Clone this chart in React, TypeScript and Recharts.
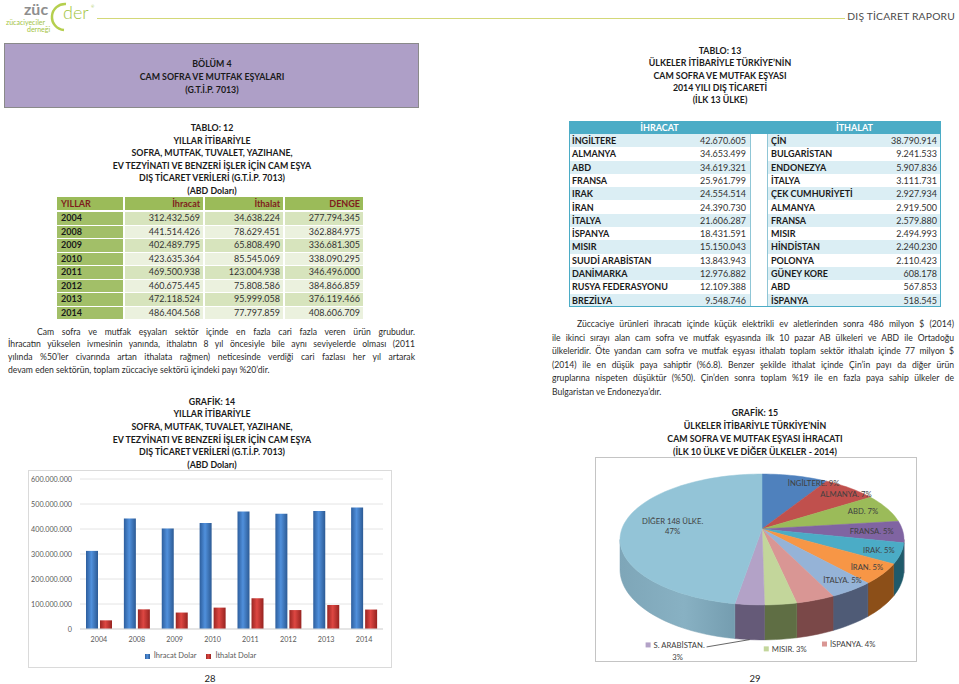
import React from "react";
import { BarChart, Bar, XAxis, YAxis, CartesianGrid, Legend, PieChart, Pie } from "recharts";

const FONT = "Lato, 'Open Sans', sans-serif";

// TABLO 12 / GRAFİK 14
const years = ["2004", "2008", "2009", "2010", "2011", "2012", "2013", "2014"];
const exportUsd = [312432569, 441514426, 402489795, 423635364, 469500938, 460675445, 472118524, 486404568];
const importUsd = [34638224, 78629451, 65808490, 85545069, 123004938, 75808586, 95999058, 77797859];
const balanceUsd = [277794345, 362884975, 336681305, 338090295, 346496000, 384866859, 376119466, 408606709];
const yTicks = [0, 100000000, 200000000, 300000000, 400000000, 500000000, 600000000];

// TABLO 13
const exportCountries = ["İNGİLTERE", "ALMANYA", "ABD", "FRANSA", "IRAK", "İRAN", "İTALYA", "İSPANYA", "MISIR", "SUUDİ ARABİSTAN", "DANİMARKA", "RUSYA FEDERASYONU", "BREZİLYA"];
const exportByCountry = [42670605, 34653499, 34619321, 25961799, 24554514, 24390730, 21606287, 18431591, 15150043, 13843943, 12976882, 12109388, 9548746];
const importCountries = ["ÇİN", "BULGARİSTAN", "ENDONEZYA", "İTALYA", "ÇEK CUMHURİYETİ", "ALMANYA", "FRANSA", "MISIR", "HİNDİSTAN", "POLONYA", "GÜNEY KORE", "ABD", "İSPANYA"];
const importByCountry = [38790914, 9241533, 5907836, 3111731, 2927934, 2919500, 2579880, 2494993, 2240230, 2110423, 608178, 567853, 518545];

// GRAFİK 15
const pieNames = ["İNGİLTERE", "ALMANYA", "ABD", "FRANSA", "IRAK", "İRAN", "İTALYA", "İSPANYA", "MISIR", "S. ARABİSTAN", "DİĞER 148 ÜLKE"];
const pieValues = [42670605, 34653499, 34619321, 25961799, 24554514, 24390730, 21606287, 18431591, 15150043, 13843943, 230522236];
const piePercents = [9, 7, 7, 5, 5, 5, 5, 4, 3, 3, 47];

const pieColors = ["#4f81bd", "#c0504d", "#9bbb59", "#8064a2", "#4bacc6", "#f79646", "#95b3d7", "#d99694", "#c3d69b", "#b3a2c7", "#93c4d7"];
const wallColors = ["#2c4a6e", "#6e2c2a", "#5a6e33", "#4a3a5e", "#1f5a6a", "#8c4f18", "#4f5b76", "#7a4848", "#5f6e44", "#655a78", "url(#wallOther)"];

const fmt = (n: number) => String(n).replace(/\B(?=(\d{3})+(?!\d))/g, ".");

const barData = years.map((y, i) => ({ year: y, exp: exportUsd[i], imp: importUsd[i] }));
const pieData = pieNames.map((n, i) => ({ name: n, value: pieValues[i] }));

// 3D pie projection (tilted disc with perspective)
const PERSP = 0.16;
const SX = 0.987;
const SY = 0.449;
const DEPTH = 0.207;
const RAD = Math.PI / 180;

function proj(cx: number, cy: number, r: number, deg: number, f = 1) {
  const s = Math.sin(deg * RAD) * f;
  const c = Math.cos(deg * RAD) * f;
  const w = 1 + PERSP * s;
  return { x: cx + (r * SX * c) / w, y: cy - (r * SY * s) / w, w };
}

function arc(cx: number, cy: number, r: number, a0: number, a1: number, drop: number) {
  const n = Math.max(2, Math.ceil(Math.abs(a1 - a0) / 2));
  const pts: number[][] = [];
  for (let i = 0; i <= n; i++) {
    const p = proj(cx, cy, r, a0 + ((a1 - a0) * i) / n);
    pts.push([p.x, p.y + drop / p.w]);
  }
  return pts;
}

const toPath = (pts: number[][]) =>
  pts.map((p, i) => (i ? "L" : "M") + p[0].toFixed(2) + "," + p[1].toFixed(2)).join("") + "Z";

const sliceShape = (p: any) => {
  const { cx, cy, outerRadius: r, startAngle, endAngle, index } = p;
  const lo = Math.min(startAngle, endAngle);
  const hi = Math.max(startAngle, endAngle);
  const top = toPath([[cx, cy], ...arc(cx, cy, r, lo, hi, 0)]);
  const silh = Math.asin(PERSP) / RAD;
  const w0 = Math.max(lo, -180 + silh);
  const w1 = Math.min(hi, -silh);
  let wall = null;
  if (w1 > w0) {
    const upper = arc(cx, cy, r, w0, w1, 0);
    const lower = arc(cx, cy, r, w0, w1, DEPTH * r).reverse();
    wall = <path d={toPath([...upper, ...lower])} fill={wallColors[index]} stroke={index === 10 ? "#78a0b2" : wallColors[index]} strokeWidth={0.5} />;
  }
  return (
    <g key={`slice-${index}`}>
      {index === 10 && (
        <defs>
          <linearGradient id="wallOther" gradientUnits="userSpaceOnUse" x1={cx - r} y1="0" x2={cx} y2="0">
            <stop offset="0%" stopColor="#7ea6b8" />
            <stop offset="45%" stopColor="#88b1c3" />
            <stop offset="100%" stopColor="#6a92a5" />
          </linearGradient>
        </defs>
      )}
      {wall}
      <path d={top} fill={pieColors[index]} stroke={pieColors[index]} strokeWidth={0.5} />
    </g>
  );
};

const insideNudge: Record<string, number> = { "İNGİLTERE": 23, "ALMANYA": 8, "ABD": -6, "FRANSA": -10, "İRAN": 4, "İTALYA": 6 };
const outsideSpots: Record<string, { dx: number; dy: number }> = {
  "İSPANYA": { dx: 6.5, dy: 9.3 },
  "MISIR": { dx: -17, dy: 9.6 },
  "S. ARABİSTAN": { dx: -104, dy: 5.3 },
};

const sliceText = (p: any) => {
  const { cx, cy, outerRadius: r, midAngle, index, percent } = p;
  const name = pieNames[index];
  const txt = { fontSize: 7.7, fill: "#404040", fontFamily: FONT };
  if (percent < 0.04) {
    const a = proj(cx, cy, r, midAngle, 1);
    const ax = a.x;
    const ay = a.y + (DEPTH * r) / a.w;
    const o = outsideSpots[name];
    const lx = ax + o.dx;
    const ly = ay + o.dy;
    const two = name === "S. ARABİSTAN";
    return (
      <g key={`t-${index}`}>
        <rect x={lx} y={ly - 2.5} width={5} height={5} fill={pieColors[index]} />
        <text x={lx + 8} y={ly} dominantBaseline="central" {...txt}>
          {two ? name + "." : `${name}. ${piePercents[index]}%`}
        </text>
        {two && (
          <>
            <text x={lx + 32} y={ly + 12} dominantBaseline="central" textAnchor="middle" {...txt}>
              {piePercents[index]}%
            </text>
            <path d={`M${lx + 61},${ly + 2}L${ax},${ay}`} stroke="#404040" strokeWidth={0.8} fill="none" />
          </>
        )}
      </g>
    );
  }
  const big = percent > 0.3;
  const q = proj(cx, cy, r, midAngle, big ? 0.645 : 0.85);
  const x = q.x + (insideNudge[name] || 0);
  if (big) {
    return (
      <text key={`t-${index}`} x={x} y={q.y} textAnchor="middle" {...txt}>
        <tspan x={x} dy="-2">{name}.</tspan>
        <tspan x={x} dy="10">{piePercents[index]}%</tspan>
      </text>
    );
  }
  return (
    <text key={`t-${index}`} x={x} y={q.y} textAnchor="middle" dominantBaseline="central" {...txt}>
      {`${name}. ${piePercents[index]}%`}
    </text>
  );
};

function Title({ cx, center, lh, lines }: { cx: number; center: number; lh: number; lines: string[] }) {
  return (
    <div
      style={{
        position: "absolute", left: cx - 180, top: center - lh / 2, width: 360, textAlign: "center",
        lineHeight: `${lh}px`, fontSize: 8.8, fontWeight: 700, color: "#1a1a1a", whiteSpace: "nowrap",
      }}
    >
      {lines.map((s, i) => <div key={i}>{s}</div>)}
    </div>
  );
}

function Para({ left, width, center, lh, indent, lines }: { left: number; width: number; center: number; lh: number; indent: number; lines: string[] }) {
  return (
    <div style={{ position: "absolute", left, top: center - lh / 2, width, fontSize: 8.6, lineHeight: `${lh}px`, color: "#2b2b2b" }}>
      {lines.map((s, i) => {
        const last = i === lines.length - 1;
        return (
          <div key={i} style={{ textAlign: last ? "left" : "justify", textAlignLast: last ? "left" : "justify", paddingLeft: i === 0 ? indent : 0 }}>
            {s}
          </div>
        );
      })}
    </div>
  );
}

const t12Cols = [[57, 66], [125, 78], [205, 78], [285, 78]];
const t12Head = ["YILLAR", "İhracat", "İthalat", "DENGE"];

function Table12() {
  const rowTop = (i: number) => 212 + i * 13.5;
  const cell = (l: number, t: number, w: number, h: number, bg: string) =>
    ({ position: "absolute", left: l, top: t, width: w, height: h, background: bg, lineHeight: `${h}px`, boxSizing: "border-box" } as React.CSSProperties);
  return (
    <>
      {t12Head.map((h, c) => (
        <div key={h} style={{ ...cell(t12Cols[c][0], 197, t12Cols[c][1], 13, "#9bbb59"), color: "#7f1d1d", fontWeight: 700, fontSize: 9, textAlign: c === 0 ? "left" : "right", padding: c === 0 ? "0 0 0 4px" : "0 3px 0 0" }}>
          {h}
        </div>
      ))}
      {years.map((y, i) => {
        const bg = i % 2 === 0 ? "#d7e4bd" : "#ebf1de";
        const vals = [exportUsd[i], importUsd[i], balanceUsd[i]];
        return (
          <React.Fragment key={y}>
            <div style={{ ...cell(57, rowTop(i), 66, 12.5, "#a2bf68"), fontWeight: 700, fontSize: 9, color: "#1a1a1a", paddingLeft: 4 }}>{y}</div>
            {vals.map((v, c) => (
              <div key={c} style={{ ...cell(t12Cols[c + 1][0], rowTop(i), t12Cols[c + 1][1], 12.5, bg), fontSize: 9, color: "#333", textAlign: "right", paddingRight: 3 }}>
                {fmt(v)}
              </div>
            ))}
          </React.Fragment>
        );
      })}
    </>
  );
}

function Table13() {
  const rh = 13.3;
  return (
    <>
      <div style={{ position: "absolute", left: 569, top: 121, width: 372, height: 13, background: "#4bacc6" }} />
      <div style={{ position: "absolute", left: 569, top: 121, width: 181, lineHeight: "13px", textAlign: "center", color: "#fff", fontWeight: 700, fontSize: 9 }}>İHRACAT</div>
      <div style={{ position: "absolute", left: 768, top: 121, width: 173, lineHeight: "13px", textAlign: "center", color: "#fff", fontWeight: 700, fontSize: 9 }}>İTHALAT</div>
      {exportCountries.map((n, i) => {
        const top = 134 + i * rh;
        const bg = i % 2 === 0 ? "#dbeef4" : "#ffffff";
        return (
          <React.Fragment key={n}>
            <div style={{ position: "absolute", left: 569, top, width: 181, height: rh, background: bg }} />
            <div style={{ position: "absolute", left: 768, top, width: 173, height: rh, background: bg }} />
            <div style={{ position: "absolute", left: 572, top, lineHeight: `${rh}px`, fontSize: 9, fontWeight: 700, color: "#1a1a1a" }}>{n}</div>
            <div style={{ position: "absolute", left: 650, width: 96, top, lineHeight: `${rh}px`, fontSize: 9, color: "#333", textAlign: "right" }}>{fmt(exportByCountry[i])}</div>
            <div style={{ position: "absolute", left: 771, top, lineHeight: `${rh}px`, fontSize: 9, fontWeight: 700, color: "#1a1a1a" }}>{importCountries[i]}</div>
            <div style={{ position: "absolute", left: 840, width: 97, top, lineHeight: `${rh}px`, fontSize: 9, color: "#333", textAlign: "right" }}>{fmt(importByCountry[i])}</div>
          </React.Fragment>
        );
      })}
      <div style={{ position: "absolute", left: 750, top: 134, width: 18, height: 13 * rh, borderLeft: "1px solid #8fc6d6", borderRight: "1px solid #8fc6d6", boxSizing: "border-box" }} />
      <div style={{ position: "absolute", left: 569, top: 121, width: 372, height: 186, border: "1px solid #4bacc6", boxSizing: "border-box" }} />
    </>
  );
}

function Logo() {
  return (
    <svg width={110} height={40} style={{ position: "absolute", left: 0, top: 0 }}>
      <path d="M66,4 A12,12 0 1,0 64,30" stroke="#b5cf4e" strokeWidth={2.5} fill="none" />
      <text x={24} y={15} fontSize={16} fontWeight={700} fill="#8e8e8e" fontFamily={FONT}>züc</text>
      <text x={63} y={19} fontSize={18} fontWeight={300} fill="#a3c43f" fontFamily={FONT}>der</text>
      <text x={6} y={25} fontSize={7} fill="#a3c43f" fontFamily={FONT}>zücaciyeciler</text>
      <text x={27} y={32} fontSize={7} fill="#a3c43f" fontFamily={FONT}>derneği</text>
      <text x={91} y={8} fontSize={4} fill="#a3c43f" fontFamily={FONT}>®</text>
    </svg>
  );
}

const tickStyle = { fontSize: 7.2, fill: "#595959", fontFamily: FONT };

export default function App() {
  return (
    <div style={{ position: "absolute", left: 0, top: 0, width: 959, height: 684, overflow: "hidden", background: "#fff", fontFamily: FONT }}>
      <Logo />
      <div style={{ position: "absolute", left: 97, top: 18, width: 748, height: 1, background: "#d3d878" }} />
      <div style={{ position: "absolute", right: 4, top: 10, fontSize: 10.3, color: "#4a4a4a", letterSpacing: 0.2 }}>DIŞ TİCARET RAPORU</div>

      <div style={{ position: "absolute", left: 4, top: 43, width: 415, height: 65, background: "#ae9fc7", border: "1px solid #8a8a8a", boxSizing: "border-box" }} />
      <Title cx={212} center={63} lh={13} lines={["BÖLÜM 4", "CAM SOFRA VE MUTFAK EŞYALARI", "(G.T.İ.P. 7013)"]} />

      <Title cx={720} center={51} lh={12.4} lines={["TABLO: 13", "ÜLKELER İTİBARİYLE TÜRKİYE’NİN", "CAM SOFRA VE MUTFAK EŞYASI", "2014 YILI DIŞ TİCARETİ", "(İLK 13 ÜLKE)"]} />

      <Title cx={212} center={128.5} lh={12.5} lines={["TABLO: 12", "YILLAR İTİBARİYLE", "SOFRA, MUTFAK, TUVALET, YAZIHANE,", "EV TEZYİNATI VE BENZERİ İŞLER İÇİN CAM EŞYA", "DIŞ TİCARET VERİLERİ (G.T.İ.P. 7013)", "(ABD Doları)"]} />
      <Table12 />
      <Table13 />

      <Para
        left={8} width={407} center={332} lh={12.9} indent={29}
        lines={[
          "Cam sofra ve mutfak eşyaları sektör içinde en fazla cari fazla veren ürün grubudur.",
          "İhracatın yükselen ivmesinin yanında, ithalatın 8 yıl öncesiyle bile aynı seviyelerde olması (2011",
          "yılında %50’ler civarında artan ithalata rağmen) neticesinde verdiği cari fazlası her yıl artarak",
          "devam eden sektörün, toplam züccaciye sektörü içindeki payı %20’dir.",
        ]}
      />
      <Para
        left={552} width={402} center={325} lh={13.5} indent={25}
        lines={[
          "Züccaciye ürünleri ihracatı içinde küçük elektrikli ev aletlerinden sonra 486 milyon $ (2014)",
          "ile ikinci sırayı alan cam sofra ve mutfak eşyasında ilk 10 pazar AB ülkeleri ve ABD ile Ortadoğu",
          "ülkeleridir. Öte yandan cam sofra ve mutfak eşyası ithalatı toplam sektör ithalatı içinde 77 milyon $",
          "(2014) ile en düşük paya sahiptir (%6.8). Benzer şekilde ithalat içinde Çin’in payı da diğer ürün",
          "gruplarına nispeten düşüktür (%50). Çin’den sonra toplam %19 ile en fazla paya sahip ülkeler de",
          "Bulgaristan ve Endonezya’dır.",
        ]}
      />

      <Title cx={212} center={402} lh={12.7} lines={["GRAFİK: 14", "YILLAR İTİBARİYLE", "SOFRA, MUTFAK, TUVALET, YAZIHANE,", "EV TEZYİNATI VE BENZERİ İŞLER İÇİN CAM EŞYA", "DIŞ TİCARET VERİLERİ (G.T.İ.P. 7013)", "(ABD Doları)"]} />
      <Title cx={755} center={412} lh={13} lines={["GRAFİK: 15", "ÜLKELER İTİBARİYLE TÜRKİYE’NİN", "CAM SOFRA VE MUTFAK EŞYASI İHRACATI", "(İLK 10 ÜLKE VE DİĞER ÜLKELER - 2014)"]} />

      <div style={{ position: "absolute", left: 28, top: 470, width: 364, height: 198, border: "1px solid #dadada", boxSizing: "border-box" }} />
      <div style={{ position: "absolute", left: 28, top: 470 }}>
        <BarChart width={364} height={198} data={barData} margin={{ top: 9, right: 9, left: 0, bottom: 4 }} barCategoryGap={6} barGap={2}>
          <defs>
            <linearGradient id="gBlue" x1="0" y1="0" x2="1" y2="0">
              <stop offset="0%" stopColor="#2d5e9d" />
              <stop offset="45%" stopColor="#5090dc" />
              <stop offset="100%" stopColor="#2c5a94" />
            </linearGradient>
            <linearGradient id="gRed" x1="0" y1="0" x2="1" y2="0">
              <stop offset="0%" stopColor="#9a2622" />
              <stop offset="45%" stopColor="#de4742" />
              <stop offset="100%" stopColor="#962320" />
            </linearGradient>
          </defs>
          <CartesianGrid vertical={false} stroke="#e4e4e4" />
          <XAxis dataKey="year" tickLine={false} axisLine={{ stroke: "#d9d9d9" }} tick={tickStyle} height={19} interval={0} />
          <YAxis domain={[0, 600000000]} ticks={yTicks} tickFormatter={fmt} axisLine={false} tickLine={false} width={52} tick={tickStyle} interval={0} />
          <Legend
            verticalAlign="bottom" height={16} iconType="square" iconSize={5}
            wrapperStyle={{ fontSize: 7.5, fontFamily: FONT, lineHeight: "16px" }}
            formatter={(v: any) => <span style={{ color: "#595959" }}>{v}</span>}
          />
          <Bar dataKey="exp" name="İhracat Dolar" fill="url(#gBlue)" isAnimationActive={false} />
          <Bar dataKey="imp" name="İthalat Dolar" fill="url(#gRed)" isAnimationActive={false} />
        </BarChart>
      </div>

      <div style={{ position: "absolute", left: 595, top: 457, width: 322, height: 205, border: "1px solid #c4c4c4", boxSizing: "border-box" }} />
      <div style={{ position: "absolute", left: 595, top: 457 }}>
        <PieChart width={322} height={215}>
          <Pie data={pieData} dataKey="value" nameKey="name" cx={162} cy={67} outerRadius={142} startAngle={90} endAngle={-270}
            fill="transparent" stroke="none" label={sliceShape} labelLine={false} isAnimationActive={false} />
          <Pie data={pieData} dataKey="value" nameKey="name" cx={162} cy={67} outerRadius={142} startAngle={90} endAngle={-270}
            fill="transparent" stroke="none" label={sliceText} labelLine={false} isAnimationActive={false} />
        </PieChart>
      </div>

      <div style={{ position: "absolute", left: 200, top: 674, width: 20, lineHeight: "10px", textAlign: "center", fontSize: 9.5, color: "#222" }}>28</div>
      <div style={{ position: "absolute", left: 745, top: 674, width: 20, lineHeight: "10px", textAlign: "center", fontSize: 9.5, color: "#222" }}>29</div>
    </div>
  );
}
